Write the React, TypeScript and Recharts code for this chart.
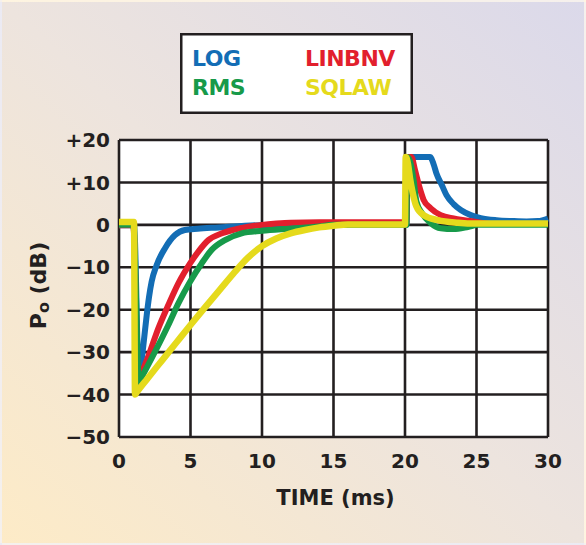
import React from 'react';
import { LineChart, Line, XAxis, YAxis, CartesianGrid, Legend } from 'recharts';

const xTicks = [0, 5, 10, 15, 20, 25, 30];
const yTicks = [-50, -40, -30, -20, -10, 0, 10, 20];

// [time ms, Po dB]
const logPoints: [number, number][] = [
  [0, -0.1], [1.05, -0.1], [1.4, -37], [1.47, -35], [1.7, -28.5], [1.94, -21.2], [2.1, -17], [2.28, -13.4],
  [2.63, -9.5], [3.22, -5.5], [3.92, -2.4], [4.6, -1.2], [5.5, -0.9], [7, -0.6], [8.8, -0.2],
  [10, -0.1], [15, 0], [20.1, 0], [20.2, 16], [21.75, 16], [22.0, 14.3],
  [22.2, 12.1], [22.6, 9.2], [22.9, 7.0], [23.4, 4.9], [23.9, 3.5], [24.6, 2.3], [25.3, 1.6],
  [26.4, 1.1], [27.5, 0.9], [28.5, 0.8], [29.3, 0.9], [30, 1.5],
];
const linbnvPoints: [number, number][] = [
  [0, -0.1], [1.0, -0.1], [1.35, -37], [1.45, -36.1], [2.05, -31], [2.75, -24.4], [3.45, -18.9],
  [4.15, -13.8], [4.97, -9.1], [5.55, -6.3], [6.25, -3.6], [7.2, -2.0], [8.6, -0.7], [10, 0],
  [11, 0.3], [12, 0.5], [14, 0.6], [20.1, 0.6], [20.15, 16], [20.45, 16], [20.7, 12.9], [21.0, 9],
  [21.3, 5.9], [21.8, 3.9], [22.5, 2.3], [23.4, 1.5], [24.4, 1.0], [25.3, 0.5], [26, 0.2], [30, 0.2],
];
const rmsPoints: [number, number][] = [
  [0, 0], [1.0, 0], [1.4, -37], [1.5, -36.4], [2.52, -29.9], [3.45, -23.6], [4.15, -18.5],
  [4.97, -13.4], [5.78, -9.1], [6.48, -5.9], [7.41, -3.6], [8.58, -2.0], [10, -1.4], [12, -0.9],
  [14, -0.4], [15, 0], [20.1, 0], [20.15, 16], [20.35, 15], [20.6, 10.6], [20.8, 5.5], [21.2, 2.7],
  [21.8, 0.4], [22.5, -0.8], [23.4, -1.0], [24.4, -0.5], [25.1, 0], [30, 0],
];
const sqlawPoints: [number, number][] = [
  [0, 0.7], [1.05, 0.7], [1.12, -40], [1.25, -39.4], [2, -36.2], [3, -32], [4, -27.8], [5, -23.6],
  [6, -19.5], [7, -15.5], [8, -11.5], [9, -7.8], [10, -5], [11, -3.2], [12, -2.0], [13, -1.2],
  [14, -0.6], [15, -0.2], [16, 0.1], [20, 0.1], [20.05, 16], [20.2, 14.5], [20.35, 11], [20.5, 8.2],
  [20.8, 4.3], [21.3, 2.3], [22.3, 1.1], [23.7, 0.5], [25, 0.3], [30, 0.3],
];

const seriesNames = ['LOG', 'LINBNV', 'RMS', 'SQLAW'];
const seriesColors = ['#136db5', '#e21f2d', '#179a4a', '#e5da1c'];
const seriesWidths = [6, 6, 6, 6.5];
const seriesPoints = [logPoints, linbnvPoints, rmsPoints, sqlawPoints];

const toData = (pts: [number, number][]) => pts.map(([t, v]) => ({ t, v }));

const FONT = '"DejaVu Sans", sans-serif';
const INK = '#231f20';

const fmtY = (v: number) => (v > 0 ? `+${v}` : v < 0 ? `\u2212${-v}` : '0');

const renderYLabel = (props: any) => {
  const vb = props.viewBox || { x: 0, y: 140, width: 119, height: 297 };
  const cx = vb.x + 38;
  const cy = vb.y + vb.height / 2 - 3;
  return (
    <text
      x={cx}
      y={cy}
      transform={`rotate(-90, ${cx}, ${cy})`}
      textAnchor="middle"
      dominantBaseline="central"
      fill={INK}
      fontFamily={FONT}
      fontWeight={700}
      fontSize={22}
    >
      P
      <tspan fontSize={16} dy={5}>o</tspan>
      <tspan dy={-5}> (dB)</tspan>
    </text>
  );
};

const renderXLabel = (props: any) => {
  const vb = props.viewBox || { x: 119, y: 437, width: 429, height: 30 };
  return (
    <text
      x={vb.x + vb.width / 2 + 2}
      y={vb.y + 68}
      textAnchor="middle"
      fill={INK}
      fontFamily={FONT}
      fontWeight={700}
      fontSize={21}
    >
      TIME (ms)
    </text>
  );
};

const legendLayout = [
  { name: 'LOG', x: 12, y: 33 },
  { name: 'LINBNV', x: 125, y: 33 },
  { name: 'RMS', x: 12, y: 62 },
  { name: 'SQLAW', x: 125, y: 62 },
];

const renderLegend = () => (
  <svg width={233} height={81} style={{ display: 'block' }}>
    <rect x={1.25} y={1.25} width={230.5} height={78.5} fill="#fff" stroke={INK} strokeWidth={2.5} />
    {legendLayout.map((l) => {
      const i = seriesNames.indexOf(l.name);
      return (
        <text key={l.name} x={l.x} y={l.y} fill={seriesColors[i]} fontFamily={FONT} fontWeight={700} fontSize={22} letterSpacing={-0.5}>
          {l.name}
        </text>
      );
    })}
  </svg>
);

export default function App() {
  return (
    <div
      style={{
        position: 'absolute',
        left: 0,
        top: 0,
        width: 586,
        height: 545,
        boxSizing: 'border-box',
        border: '2px solid rgba(255,255,255,0.45)',
        background: 'linear-gradient(to top right, #fdebc7 0%, #ede4de 50%, #dbd9ea 100%)',
      }}
    >
      <div style={{ position: 'absolute', left: -2, top: -2 }}>
        <LineChart width={586} height={545} margin={{ top: 140, right: 38, bottom: 78, left: 0 }}>
          <CartesianGrid stroke={INK} strokeWidth={2.6} fill="#ffffff" fillOpacity={1} />
          <XAxis
            type="number"
            dataKey="t"
            domain={[0, 30]}
            ticks={xTicks}
            interval={0}
            height={30}
            tickLine={false}
            axisLine={false}
            tickSize={0}
            tickMargin={17}
            tick={{ fill: INK, fontSize: 20, fontWeight: 700, fontFamily: FONT }}
            label={renderXLabel}
          />
          <YAxis
            type="number"
            domain={[-50, 20]}
            ticks={yTicks}
            interval={0}
            width={119}
            tickLine={false}
            axisLine={false}
            tickSize={0}
            tickMargin={9}
            tickFormatter={fmtY}
            tick={{ fill: INK, fontSize: 20, fontWeight: 700, fontFamily: FONT }}
            label={renderYLabel}
          />
          <Legend
            layout="horizontal"
            verticalAlign="middle"
            align="center"
            width={233}
            height={81}
            wrapperStyle={{ left: 180, top: 33, width: 233, height: 81 }}
            content={renderLegend}
          />
          {seriesNames.map((name, i) => (
            <Line
              key={name}
              name={name}
              data={toData(seriesPoints[i])}
              dataKey="v"
              type="monotone"
              stroke={seriesColors[i]}
              strokeWidth={seriesWidths[i]}
              strokeLinejoin="round"
              dot={false}
              activeDot={false}
              isAnimationActive={false}
            />
          ))}
        </LineChart>
      </div>
    </div>
  );
}
